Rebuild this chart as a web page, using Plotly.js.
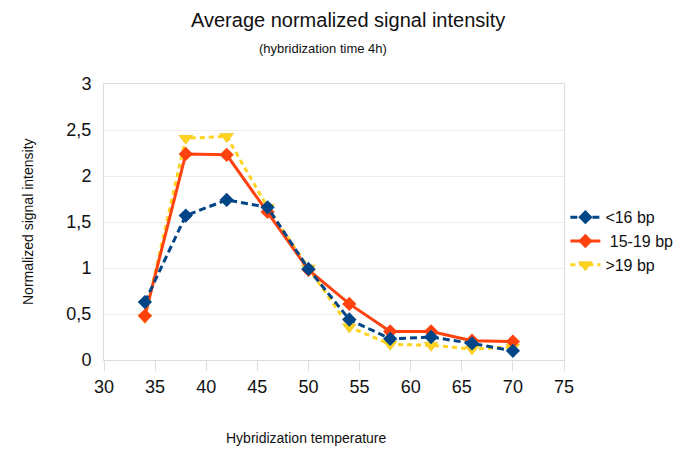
<!DOCTYPE html>
<html>
<head>
<meta charset="utf-8">
<script src="https://cdn.plot.ly/plotly-3.0.1.min.js"></script>
<style>
  html, body { margin: 0; padding: 0; background: #fff; }
  #chart { width: 685px; height: 465px; }
</style>
</head>
<body>
<div id="chart"></div>
<script>
// data
const temps = [34, 38, 42, 46, 50, 54, 58, 62, 66, 70];
const short_bp = [0.63, 1.57, 1.74, 1.66, 0.99, 0.44, 0.23, 0.25, 0.18, 0.10];
const mid_bp = [0.48, 2.24, 2.23, 1.61, 0.98, 0.61, 0.31, 0.31, 0.21, 0.20];
const long_bp = [0.46, 2.41, 2.43, 1.66, 1.00, 0.36, 0.17, 0.16, 0.12, 0.14];
const series_names = ['<16 bp', ' 15-19 bp', '>19 bp'];
const x_ticks = [30, 35, 40, 45, 50, 55, 60, 65, 70, 75];
const y_ticks = [0, 0.5, 1, 1.5, 2, 2.5, 3];

const font = 'Liberation Sans, Arial, sans-serif';

// drawn back to front: yellow, orange, blue
const traces = [
  {
    x: temps, y: long_bp, name: series_names[2],
    mode: 'lines+markers',
    line: {color: '#ffd320', width: 3, dash: '5px,4px'},
    marker: {symbol: 'triangle-down', size: 12, color: '#ffd320', line: {color: '#e8b800', width: 0.5}},
  },
  {
    x: temps, y: mid_bp, name: series_names[1],
    mode: 'lines+markers',
    line: {color: '#ff420e', width: 3},
    marker: {symbol: 'diamond', size: 11, color: '#ff420e'},
  },
  {
    x: temps, y: short_bp, name: series_names[0],
    mode: 'lines+markers',
    line: {color: '#004586', width: 3, dash: '7px,4px'},
    marker: {symbol: 'diamond', size: 11, color: '#004586'},
  },
];

const layout = {
  width: 685,
  height: 465,
  margin: {l: 104, r: 121, t: 84, b: 105, autoexpand: false},
  paper_bgcolor: '#fff',
  plot_bgcolor: '#fff',
  separators: ', ',
  font: {family: font, color: '#111'},
  showlegend: true,
  legend: {
    x: 1.003, y: 0.43, xanchor: 'left', yanchor: 'middle',
    traceorder: 'reversed',
    font: {size: 16, family: font, color: '#111'},
    itemwidth: 30,
    tracegroupgap: 0,
  },
  xaxis: {
    range: [30, 75],
    tickvals: x_ticks,
    ticks: 'outside', ticklen: 10, tickcolor: '#ddd',
    showgrid: false, zeroline: false,
    showline: true, linecolor: '#ddd', mirror: true,
    tickfont: {size: 18, family: font, color: '#111'},
  },
  yaxis: {
    range: [0, 3],
    tickvals: y_ticks,
    tickformat: '.1~f',
    ticks: '', showgrid: true, gridcolor: '#eee',
    zeroline: false,
    showline: true, linecolor: '#ddd', mirror: true,
    tickfont: {size: 18, family: font, color: '#111'},
    ticklabelstandoff: 8,
  },
  annotations: [
    {text: 'Average normalized signal intensity', showarrow: false,
     font: {size: 20, family: font, color: '#111'}},
    {text: '(hybridization time 4h)', showarrow: false,
     font: {size: 13, family: font, color: '#111'}},
    {text: 'Hybridization temperature', showarrow: false,
     font: {size: 14, family: font, color: '#111'}},
    {text: 'Normalized signal intensity', showarrow: false, textangle: -90,
     font: {size: 14, family: font, color: '#111'}},
  ],
};

// place the free texts in pixel terms of the paper
const px = (x) => (x - 104) / 460;
const py = (y) => (360 - y) / 276;
const ann_pos = [[348, 20], [323, 48], [306, 438], [28, 222]];
layout.annotations.forEach((a, i) => {
  a.xref = 'paper'; a.yref = 'paper';
  a.x = px(ann_pos[i][0]); a.y = py(ann_pos[i][1]);
  a.xanchor = 'center'; a.yanchor = 'middle';
});

Plotly.newPlot('chart', traces, layout, {displayModeBar: false, staticPlot: true});
</script>
</body>
</html>
